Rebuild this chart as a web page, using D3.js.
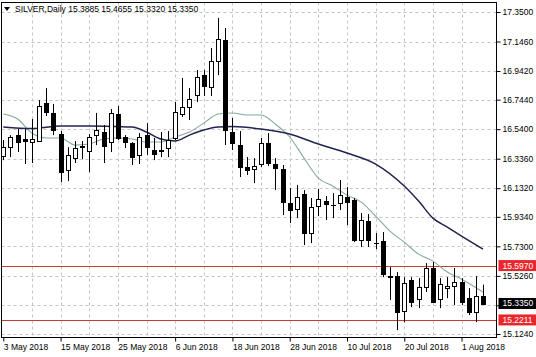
<!DOCTYPE html>
<meta charset="utf-8">
<style>
 body{ margin:0; background:#fff; }
 svg{ font-family:"Liberation Sans", Arial, sans-serif; font-size:8.5px; }
 .grid line{ stroke:#c4c4c4; stroke-dasharray:3,3; }
</style>
<body>
<svg width="536" height="357"></svg>
<script src="https://cdn.jsdelivr.net/npm/d3@7"></script>
<script>
// daily bars, SILVER
var dates = ["2018-05-03","2018-05-04","2018-05-07","2018-05-08","2018-05-09","2018-05-10","2018-05-11","2018-05-14",
 "2018-05-15","2018-05-16","2018-05-17","2018-05-18","2018-05-21","2018-05-22","2018-05-23","2018-05-24",
 "2018-05-25","2018-05-28","2018-05-29","2018-05-30","2018-05-31","2018-06-01","2018-06-04","2018-06-05",
 "2018-06-06","2018-06-07","2018-06-08","2018-06-11","2018-06-12","2018-06-13","2018-06-14","2018-06-15",
 "2018-06-18","2018-06-19","2018-06-20","2018-06-21","2018-06-22","2018-06-25","2018-06-26","2018-06-27",
 "2018-06-28","2018-06-29","2018-07-02","2018-07-03","2018-07-04","2018-07-05","2018-07-06","2018-07-09",
 "2018-07-10","2018-07-11","2018-07-12","2018-07-13","2018-07-16","2018-07-17","2018-07-18","2018-07-19",
 "2018-07-20","2018-07-23","2018-07-24","2018-07-25","2018-07-26","2018-07-27","2018-07-30","2018-07-31",
 "2018-08-01","2018-08-02","2018-08-03","2018-08-06"];

var open = [16.354,16.416,16.499,16.472,16.451,16.458,16.721,16.652,16.506,16.257,16.340,16.416,16.389,16.499,16.520,16.451,
 16.645,16.486,16.444,16.361,16.499,16.396,16.396,16.409,16.479,16.645,16.693,16.776,16.914,16.831,17.011,17.156,
 16.520,16.430,16.278,16.264,16.299,16.444,16.299,16.264,16.029,15.988,16.091,15.822,16.008,16.043,16.015,16.029,
 16.071,16.050,15.773,15.905,15.752,15.766,15.524,15.524,15.282,15.497,15.365,15.448,15.580,15.365,15.441,15.455,
 15.483,15.372,15.275,15.3885];
var high = [16.465,16.499,16.541,16.541,16.610,16.741,16.824,16.714,16.527,16.416,16.458,16.458,16.506,16.652,16.569,16.679,
 16.700,16.499,16.451,16.513,16.582,16.479,16.520,16.527,16.728,16.894,16.824,16.949,16.949,17.101,17.309,17.239,
 16.617,16.527,16.347,16.340,16.479,16.513,16.340,16.292,16.133,16.154,16.119,16.064,16.126,16.078,16.098,16.188,
 16.140,16.064,15.960,15.953,15.822,15.829,15.586,15.552,15.517,15.517,15.510,15.614,15.621,15.510,15.517,15.580,
 15.510,15.441,15.524,15.4655];
var low = [16.326,16.347,16.382,16.299,16.306,16.451,16.631,16.499,16.174,16.181,16.306,16.333,16.243,16.430,16.306,16.382,
 16.465,16.409,16.292,16.299,16.361,16.326,16.347,16.347,16.465,16.624,16.603,16.728,16.769,16.769,16.914,16.430,
 16.396,16.209,16.223,16.167,16.278,16.285,16.119,15.946,15.891,15.925,15.739,15.752,15.939,15.912,15.925,15.981,
 15.877,15.759,15.725,15.725,15.711,15.517,15.358,15.151,15.206,15.310,15.303,15.414,15.338,15.303,15.372,15.324,
 15.324,15.255,15.206,15.332];
var close = [16.416,16.486,16.451,16.458,16.472,16.700,16.658,16.534,16.243,16.361,16.409,16.423,16.486,16.534,16.423,16.652,
 16.479,16.451,16.347,16.486,16.416,16.368,16.392,16.465,16.658,16.693,16.748,16.901,16.838,17.011,17.163,16.534,
 16.444,16.278,16.257,16.285,16.444,16.306,16.271,16.036,15.981,16.071,15.822,16.001,16.057,16.022,16.012,16.084,
 16.036,15.773,15.912,15.773,15.749,15.538,15.517,15.275,15.476,15.344,15.448,15.580,15.344,15.469,15.455,15.483,
 15.344,15.275,15.386,15.335];

// moving averages, read at some bars
var slowIdx = [0,4,8,12,16,18,20,22,24,26,28,30,32,36,40,44,48,52,56,58,60,62,64,67];
var slowVal = [16.555,16.544,16.562,16.562,16.558,16.555,16.520,16.472,16.458,16.499,16.534,16.555,16.558,16.541,16.506,16.437,
 16.375,16.299,16.147,16.043,15.925,15.863,15.801,15.711];
var fastIdx = [0,2,4,6,8,10,12,14,16,18,20,22,24,26,28,30,32,34,36,38,40,42,44,46,48,50,52,54,56,58,60,62,64,67];
var fastVal = [16.645,16.610,16.513,16.479,16.479,16.430,16.437,16.472,16.479,16.472,16.451,16.451,16.486,16.520,16.582,16.645,
 16.652,16.638,16.638,16.575,16.486,16.340,16.202,16.147,16.084,16.036,15.939,15.835,15.759,15.676,15.628,15.552,15.503,15.414];

var yTicks = [17.35,17.146,16.942,16.744,16.54,16.336,16.132,15.934,15.73,15.526,15.322,15.124];
var levels = [15.597,15.2211];
var lastPrice = 15.335;

var svg = d3.select("svg");
var L = 1.5, T = 2.5, R = 496.5, B = 337.5;

var x = d3.scalePoint().domain(dates).range([3.3, 3.3 + 67*7.16]);
var y = d3.scaleLinear().domain([15.124, 17.35]).range([334, 12]);
var parse = d3.timeParse("%Y-%m-%d"), fmt = d3.timeFormat("%-d %b %Y");
var px = function(d){ return Math.round(x(d)) + 0.5; };
var py = function(v){ return Math.round(y(v)) + 0.5; };

svg.append("defs").append("clipPath").attr("id","plot")
   .append("rect").attr("x",L).attr("y",T).attr("width",R-L).attr("height",B-T);

// grid
var grid = svg.append("g").attr("class","grid").attr("clip-path","url(#plot)");
grid.selectAll(".gx").data(dates.filter(function(d,i){ return i%4==0 && i>0; }))
    .enter().append("line")
    .attr("x1",px).attr("x2",px).attr("y1",T).attr("y2",B);
grid.selectAll(".gy").data(yTicks)
    .enter().append("line")
    .attr("x1",L).attr("x2",R).attr("y1",py).attr("y2",py);

var g = svg.append("g").attr("clip-path","url(#plot)");

// level lines
g.selectAll(".lvl").data(levels).enter().append("line")
 .attr("x1",L).attr("x2",R).attr("y1",py).attr("y2",py)
 .attr("stroke","#c83a3a").attr("stroke-width",1);

// MA lines
var line = d3.line().curve(d3.curveMonotoneX)
   .x(function(d){ return x(dates[d[0]]); }).y(function(d){ return y(d[1]); });
g.append("path").datum(fastIdx.map(function(k,i){ return [k, fastVal[i]]; }))
 .attr("d",line).attr("fill","none").attr("stroke","#86aa9c").attr("stroke-width",1.1);
g.append("path").datum(slowIdx.map(function(k,i){ return [k, slowVal[i]]; }))
 .attr("d",line).attr("fill","none").attr("stroke","#23234f").attr("stroke-width",1.5);

// candles
var bars = dates.map(function(d,i){ return {d:d, o:open[i], h:high[i], l:low[i], c:close[i]}; });
var cg = g.selectAll(".candle").data(bars).enter().append("g");
cg.append("line")
  .attr("x1",function(b){ return px(b.d); }).attr("x2",function(b){ return px(b.d); })
  .attr("y1",function(b){ return y(b.h); }).attr("y2",function(b){ return y(b.l); })
  .attr("stroke","#000").attr("stroke-width",1);
cg.append("rect")
  .attr("x",function(b){ return px(b.d) - 2; })
  .attr("width",4)
  .attr("y",function(b){ return Math.round(y(Math.max(b.o,b.c))) + 0.5; })
  .attr("height",function(b){ return Math.max(0.01, Math.round(Math.abs(y(b.o)-y(b.c)))); })
  .attr("fill",function(b){ return b.c >= b.o ? "#fff" : "#000"; })
  .attr("stroke","#000").attr("stroke-width",1);

// frame
svg.append("rect").attr("x",L).attr("y",T).attr("width",R-L).attr("height",B-T)
   .attr("fill","none").attr("stroke","#000").attr("stroke-width",1);

// axes (the 15.3220 label sits under the last-price tag, so it is left blank)
var yAxis = d3.axisRight(y).tickValues(yTicks).tickSize(4).tickPadding(2)
   .tickFormat(function(d){ return Math.abs(d - lastPrice) < 0.03 ? "" : d.toFixed(4); });
var yg = svg.append("g").attr("transform","translate(" + R + ",0)").call(yAxis);
yg.select(".domain").remove();
yg.selectAll("text").attr("fill","#000").style("font-size","8.5px").style("font-family","Liberation Sans, Arial, sans-serif");

var xAxis = d3.axisBottom(x).tickValues(dates.filter(function(d,i){ return i%8==0; }))
   .tickSize(4).tickPadding(2).tickFormat(function(d){ return fmt(parse(d)); });
var xg = svg.append("g").attr("transform","translate(0," + B + ")").call(xAxis);
xg.select(".domain").remove();
xg.selectAll("text").attr("text-anchor","start").attr("fill","#000")
  .style("font-size","8.5px").style("font-family","Liberation Sans, Arial, sans-serif");

// price labels on the right
function tag(v, fill){
  var yy = y(v);
  svg.append("rect").attr("x",R+2).attr("y",yy-5.5).attr("width",536-R-2).attr("height",11).attr("fill",fill);
  svg.append("text").attr("x",R+6).attr("y",yy+3).attr("fill","#fff").text(v.toFixed(4));
}
tag(levels[0], "#e8262c");
tag(levels[1], "#e8262c");
tag(lastPrice, "#000");

// title
var last = bars[bars.length-1];
svg.append("path").attr("d","M4,7 L10,7 L7,11 Z").attr("fill","#000");
svg.append("text").attr("x",15).attr("y",12).attr("fill","#000")
   .text("SILVER,Daily  " + [last.o,last.h,last.l,last.c].map(function(v){ return v.toFixed(4); }).join(" "));
</script>
</body>
